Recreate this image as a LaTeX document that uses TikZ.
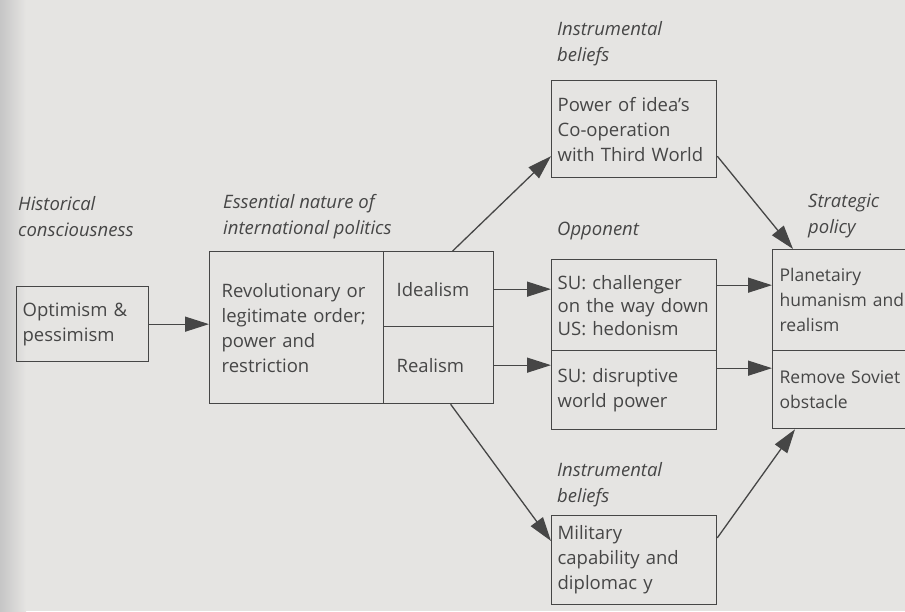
\documentclass[tikz,border=0pt]{standalone}
\usepackage{fontspec}
\setmainfont{Open Sans}
\usetikzlibrary{arrows.meta}
\definecolor{ink}{HTML}{464646}
\definecolor{paper}{HTML}{E5E4E2}

\begin{document}
\begin{tikzpicture}[x=1pt,y=-1pt,font=\fontsize{18.5}{25}\selectfont,text=ink]

        \fill[paper] (0,0) rectangle (905,611);
        \shade[left color=gray!45,right color=paper] (0,0) rectangle (26,611);
        \useasboundingbox (0,0) rectangle (905,611);

        \begin{scope}[every node/.style={draw=ink,line width=1.3pt,anchor=north west,align=left,inner ysep=0pt,inner xsep=6pt}]
          \node[text width=120pt,minimum height=75pt] (1) at (16,286) {Optimism \&\\pessimism};
          \node[text width=150pt,minimum height=152pt,inner xsep=12pt] (2) at (209,251) {Revolutionary or\\legitimate order;\\power and\\restriction};
          \node[text width=84pt,minimum height=75pt,inner xsep=13pt] (3) at (383,251) {Idealism};
          \node[text width=84pt,minimum height=77pt,inner xsep=13pt] (4) at (383,326) {Realism};
          \node[text width=153pt,minimum height=97pt] (5) at (551,80) {Power of idea's\\Co-operation\\with Third World};
          \node[text width=153pt,minimum height=91pt,font=\fontsize{18.5}{23}\selectfont] (6) at (551,259) {SU: challenger\\on the way down\\US: hedonism};
          \node[text width=153pt,minimum height=79pt] (7) at (551,350) {SU: disruptive\\world power};
          \node[text width=153pt,minimum height=89pt] (8) at (551,515) {Military\\capability and\\diplomac y};
          \node[text width=156pt,minimum height=101pt,inner xsep=7pt,font=\fontsize{17.5}{25}\selectfont] (9) at (772,249) {Planetairy\\humanism and\\realism};
          \node[text width=156pt,minimum height=78pt,inner xsep=7pt,font=\fontsize{17.5}{25}\selectfont] (10) at (772,350) {Remove Soviet\\obstacle};
        \end{scope}

        \begin{scope}[every node/.style={anchor=north west,align=left,inner sep=0pt,font=\fontsize{18.5}{26}\selectfont\itshape}]
          \node (hist) at (18,196) {Historical\\consciousness};
          \node (ess)  at (223,194) {Essential nature of\\international politics};
          \node (ins1) at (557,21) {Instrumental\\beliefs};
          \node (opp)  at (557,222) {Opponent};
          \node (str)  at (808,194) {Strategic\\policy};
          \node (ins2) at (557,462) {Instrumental\\beliefs};
        \end{scope}

        \begin{scope}[every edge/.style={draw=ink,line width=1.3pt,-{Triangle[length=24pt,width=15pt]}}]
          \path (1.east) edge (1.east -| 2.west);
          \path (3.east) edge (3.east -| 6.west);
          \path (4.east) edge (4.east -| 7.west);
          \path ([xshift=14pt]3.north) edge (5.198);
          \path ([xshift=12pt]4.south) edge (8.167);
          \path (5.-18) edge ([xshift=21pt]9.north west);
          \path ([yshift=20pt]6.east) edge ([yshift=20pt]6.east -| 9.west);
          \path ([yshift=22pt]7.east) edge ([yshift=22pt]7.east -| 10.west);
          \path (8.15) edge ([xshift=23pt]10.south west);
        \end{scope}

      \end{tikzpicture}
\end{document}
